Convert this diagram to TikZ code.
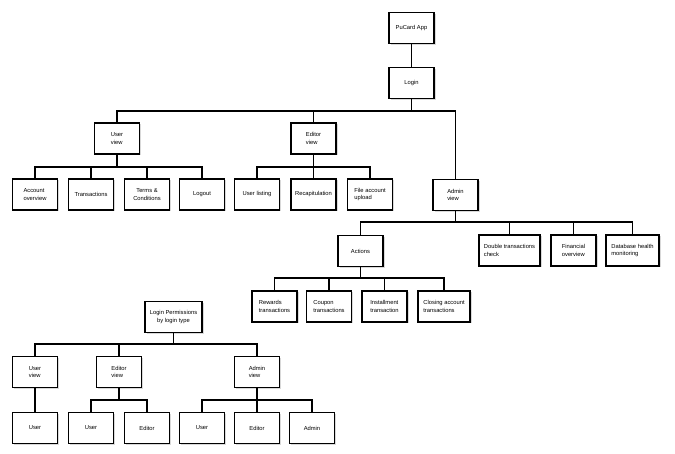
\documentclass[tikz,border=0pt]{standalone}
\usepackage{fontspec}
\setmainfont{Liberation Sans}
\usetikzlibrary{shadows}

\begin{document}
\begin{tikzpicture}[x=1pt, y=-1pt,
		box/.style={draw, line width=1.1pt, fill=white, minimum width=45pt, minimum height=31pt,
			align=left, inner sep=2pt, font=\fontsize{5.8}{7.6}\selectfont,
			drop shadow={shadow xshift=1.5pt, shadow yshift=-1.5pt, opacity=0.3}},
		link/.style={line width=1.1pt}]
		\useasboundingbox (0, 0) rectangle (675, 454);
		
		% top of the app
		\node[box] (app) at (411.5, 28) {PuCard App};
		\node[box] (login) at (411.5, 83) {Login};
		
		% the three views
		\node[box] (userv) at (117, 138.5) {User\\view};
		\node[box] (editv) at (313.5, 138.5) {Editor\\view};
		\node[box] (adminv) at (455.5, 195) {Admin\\view};
		
		% user view pages
		\node[box] (acc) at (35, 194.5) {Account\\overview};
		\node[box] (trans) at (91, 194.5) {Transactions};
		\node[box, align=center] (terms) at (147, 194.5) {Terms \&\\Conditions};
		\node[box] (logout) at (202, 194.5) {Logout};
		
		% editor view pages
		\node[box] (ulist) at (257, 194.5) {User listing};
		\node[box] (recap) at (313.5, 194.5) {Recapitulation};
		\node[box] (upload) at (370, 194.5) {File account\\upload};
		
		% admin view pages
		\node[box] (actions) at (360.5, 251) {Actions};
		\node[box, minimum width=61pt] (dcheck) at (509.5, 250.5) {Double transactions\\check};
		\node[box] (finance) at (573.5, 250.5) {Financial\\overview};
		\node[box, minimum width=53pt] (dbhealth) at (632.5, 250.5) {Database health\\monitoring};
		
		% actions
		\node[box] (rewards) at (274.5, 306.5) {Rewards\\transactions};
		\node[box] (coupon) at (329, 306.5) {Coupon\\transactions};
		\node[box] (install) at (384.5, 306.5) {Installment\\transaction};
		\node[box, minimum width=52pt] (closing) at (444, 306.5) {Closing account\\transactions};
		
		% permissions tree
		\node[box, minimum width=57pt, align=center] (perm) at (173.5, 317) {Login Permissions\\by login type};
		\node[box] (puser) at (35, 372) {User\\view};
		\node[box] (peditor) at (119, 372) {Editor\\view};
		\node[box] (padmin) at (257, 372) {Admin\\view};
		\node[box] (pu1) at (35, 428) {User};
		\node[box] (pu2) at (91, 428) {User};
		\node[box] (pe2) at (147, 428) {Editor};
		\node[box] (pu3) at (202, 428) {User};
		\node[box] (pe3) at (257, 428) {Editor};
		\node[box] (pa3) at (312, 428) {Admin};
		
		% connections
		\draw[link] (app) -- (login);
		\foreach \c in {userv, editv, adminv}
			\draw[link] (login.south) -- (login.south |- 0, 111) -| (\c.north);
		\foreach \c in {acc, trans, terms, logout}
			\draw[link] (userv.south) -- (userv.south |- 0, 167) -| (\c.north);
		\foreach \c in {ulist, recap, upload}
			\draw[link] (editv.south) -- (editv.south |- 0, 167) -| (\c.north);
		\foreach \c in {actions, dcheck, finance, dbhealth}
			\draw[link] (adminv.south) -- (adminv.south |- 0, 222) -| (\c.north);
		\foreach \c in {rewards, coupon, install, closing}
			\draw[link] (actions.south) -- (actions.south |- 0, 278) -| (\c.north);
		
		\foreach \c in {puser, peditor, padmin}
			\draw[link] (perm.south) -- (perm.south |- 0, 344) -| (\c.north);
		\draw[link] (puser) -- (pu1);
		\foreach \c in {pu2, pe2}
			\draw[link] (peditor.south) -- (peditor.south |- 0, 400) -| (\c.north);
		\foreach \c in {pu3, pe3, pa3}
			\draw[link] (padmin.south) -- (padmin.south |- 0, 400) -| (\c.north);
	\end{tikzpicture}
\end{document}
